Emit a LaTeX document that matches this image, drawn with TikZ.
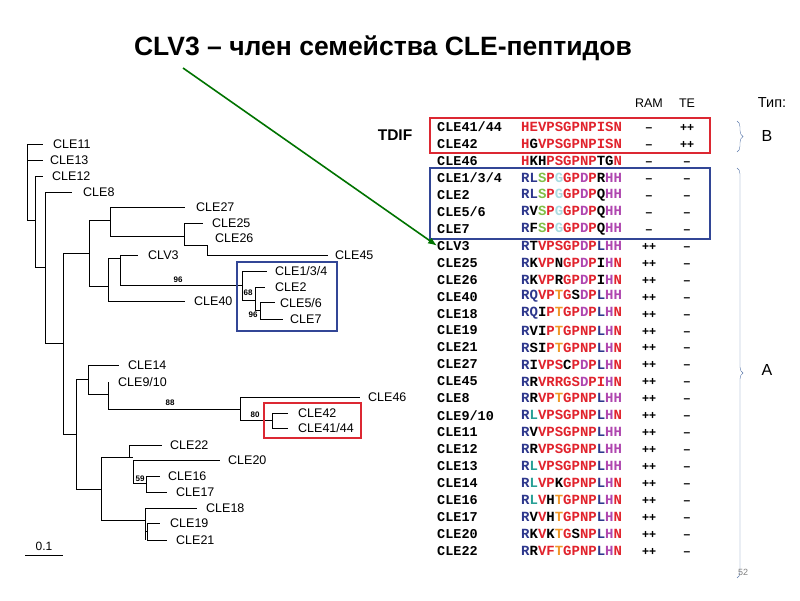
\documentclass[tikz,border=0pt]{standalone}
\usepackage{fontspec}
\setmainfont{Liberation Sans}
\newfontfamily\monofont{Liberation Mono}
\usetikzlibrary{decorations.pathreplacing,arrows.meta}
\definecolor{aaR}{RGB}{225,35,45}
\definecolor{aaB}{RGB}{45,55,140}
\definecolor{aaP}{RGB}{175,70,175}
\definecolor{aaT}{RGB}{40,160,150}
\definecolor{aaO}{RGB}{240,150,40}
\definecolor{aaG}{RGB}{130,190,70}
\definecolor{aaL}{RGB}{170,220,225}
\definecolor{boxR}{RGB}{220,40,50}
\definecolor{boxB}{RGB}{50,70,150}
\definecolor{brc}{RGB}{90,120,170}
\newcommand{\qr}[1]{\textcolor{aaR}{#1}}
\newcommand{\qb}[1]{\textcolor{aaB}{#1}}
\newcommand{\qp}[1]{\textcolor{aaP}{#1}}
\newcommand{\qt}[1]{\textcolor{aaT}{#1}}
\newcommand{\qo}[1]{\textcolor{aaO}{#1}}
\newcommand{\qg}[1]{\textcolor{aaG}{#1}}
\newcommand{\ql}[1]{\textcolor{aaL}{#1}}
\tikzset{
  branch/.style={draw,line width=0.9pt},
  leaf/.style={anchor=west,inner sep=0pt,font=\fontsize{12.5}{13}\selectfont},
  boot/.style={inner sep=0pt,font=\bfseries\fontsize{8}{9}\selectfont},
  gene/.style={anchor=west,inner sep=0pt,font=\monofont\bfseries\fontsize{13.5}{14}\selectfont},
  seq/.style={anchor=west,inner sep=0pt,font=\monofont\bfseries\fontsize{14}{14}\selectfont},
  score/.style={anchor=base,inner sep=0pt,font=\bfseries\fontsize{12}{12}\selectfont},
  frame/.style={draw,line width=2pt}
}
\begin{document}
\begin{tikzpicture}[x=1pt,y=-1pt]
\useasboundingbox (0,0) rectangle (800,600);
% title and arrow
\node[font=\bfseries\fontsize{26.5}{28}\selectfont] (title) at (383,48) {CLV3 -- член семейства CLE-пептидов};
\coordinate (tail) at (183,68);
% tree
\path[branch] (27,144) -- (27,220) (27,144) -- (43,144) (27,160) -- (43,160)
  (27,220) -- (35,220) (35,176) -- (35,267) (35,176) -- (43,176)
  (35,267) -- (45,267) (45,192) -- (45,343) (45,192) -- (72,192)
  (45,343) -- (63,343) (63,253) -- (63,434)
  (63,253) -- (89,253) (89,220) -- (89,286)
  (89,220) -- (110,220) (110,207) -- (110,236) (110,207) -- (185,207)
  (110,236) -- (184,236) (184,223) -- (184,245) (184,223) -- (203,223)
  (184,245) -- (207,245) (207,245) -- (207,255) (207,255) -- (328,255)
  (89,286) -- (108,286) (108,258) -- (108,301) (108,301) -- (185,301)
  (108,258) -- (120,258) (120,255) -- (120,285) (120,255) -- (138,255)
  (120,285) -- (242,285) (242,271) -- (242,300) (242,271) -- (267,271)
  (242,300) -- (255,300) (255,287) -- (255,310) (255,287) -- (265,287)
  (255,310) -- (260,310) (260,302) -- (260,319) (260,302) -- (275,302) (260,319) -- (283,319)
  (63,434) -- (76,434) (76,379) -- (76,489)
  (76,379) -- (88,379) (88,365) -- (88,394) (88,365) -- (119,365)
  (88,394) -- (108,394) (108,382) -- (108,409) (108,409) -- (240,409)
  (240,397) -- (240,420) (240,397) -- (360,397) (240,420) -- (272,420)
  (272,413) -- (272,428) (272,413) -- (288,413) (272,428) -- (288,428)
  (76,489) -- (101,489) (101,457) -- (101,520)
  (101,457) -- (129,457) (129,445) -- (129,457) (129,445) -- (162,445)
  (129,457) -- (133,457) (133,460) -- (133,483) (133,460) -- (220,460)
  (133,483) -- (146,483) (146,476) -- (146,492) (146,476) -- (160,476) (146,492) -- (167,492)
  (101,520) -- (145,520) (145,508) -- (145,540) (145,508) -- (197,508)
  (145,531) -- (147,531) (147,523) -- (147,540) (147,523) -- (160,523) (147,540) -- (167,540)
  (25,555) -- (63,555);
\foreach \pos/\name/\txt in {(53,144)/l11/CLE11,(50,160)/l13/CLE13,(52,176)/l12/CLE12,
    (83,192)/l8/CLE8,(196,207)/l27/CLE27,(212,223)/l25/CLE25,(215,238)/l26/CLE26,
    (335,255)/l45/CLE45,(148,255)/lclv/CLV3,(194,301)/l40/CLE40,(275,271)/l134/{CLE1/3/4},
    (275,287)/l2/CLE2,(280,303)/l56/{CLE5/6},(290,319)/l7/CLE7,(128,365)/l14/CLE14,
    (118,382)/l910/{CLE9/10},(368,397)/l46/CLE46,(298,413)/l42/CLE42,(298,428)/l4144/{CLE41/44},
    (170,445)/l22/CLE22,(228,460)/l20/CLE20,(168,476)/l16/CLE16,(176,492)/l17/CLE17,
    (206,508)/l18/CLE18,(170,523)/l19/CLE19,(176,540)/l21/CLE21}
  \node[leaf] (\name) at \pos {\txt};
\foreach \pos/\name/\txt in {(178,280)/b96a/96,(248,293)/b68/68,(253,315)/b96b/96,
    (170,403)/b88/88,(255,415)/b80/80,(140,479)/b59/59}
  \node[boot] (\name) at \pos {\txt};
\node[font=\fontsize{12}{12}\selectfont] (scale) at (44,546) {0.1};
\draw[boxB,line width=2pt] (237,262) rectangle (337,331);
\draw[boxR,line width=2pt] (264,403) rectangle (361,438);
% alignment
\node[font=\fontsize{12.5}{13}\selectfont] (ram) at (649,103) {RAM};
\node[font=\fontsize{12.5}{13}\selectfont] (te) at (687,103) {TE};
\node[font=\fontsize{14.5}{15}\selectfont] (tip) at (772,103) {Тип:};
\node[font=\bfseries\fontsize{15.5}{16}\selectfont] (tdif) at (395,135) {TDIF};
\foreach \i/\name/\aa/\ram/\te in {
  0/{CLE41/44}/{\qr{HEVPSGPNPISN}}/--/++,
  1/CLE42/{\qr{H}G\qr{VPSGPNPISN}}/--/++,
  2/CLE46/{\qr{H}KH\qr{PSGPNP}TG\qr{N}}/--/--,
  3/{CLE1/3/4}/{\qb{RL}\qg{S}\qr{P}\ql{G}\qr{GP}\qp{D}\qr{P}R\qp{HH}}/--/--,
  4/CLE2/{\qb{RL}\qg{S}\qr{P}\ql{G}\qr{GP}\qp{D}\qr{P}Q\qp{HH}}/--/--,
  5/{CLE5/6}/{\qb{R}V\qg{S}\qr{P}\ql{G}\qr{GP}\qp{D}\qr{P}Q\qp{HH}}/--/--,
  6/CLE7/{\qb{R}F\qg{S}\qr{P}\ql{G}\qr{GP}\qp{D}\qr{P}Q\qp{HH}}/--/--,
  7/CLV3/{\qb{R}T\qr{VPSGP}\qp{D}\qr{P}\qb{L}\qp{HH}}/++/--,
  8/CLE25/{\qb{R}K\qr{VP}N\qr{GP}\qp{D}\qr{P}I\qp{H}\qr{N}}/++/--,
  9/CLE26/{\qb{R}K\qr{VP}R\qr{GP}\qp{D}\qr{P}I\qp{H}\qr{N}}/++/--,
  10/CLE40/{\qb{RQ}\qr{VP}\qo{T}\qr{G}S\qp{D}\qr{P}\qb{L}\qp{HH}}/++/--,
  11/CLE18/{\qb{RQ}I\qr{P}\qo{T}\qr{GP}\qp{D}\qr{P}\qb{L}\qp{H}\qr{N}}/++/--,
  12/CLE19/{\qb{R}VI\qr{P}\qo{T}\qr{GPNP}\qb{L}\qp{H}\qr{N}}/++/--,
  13/CLE21/{\qb{R}SI\qr{P}\qo{T}\qr{GPNP}\qb{L}\qp{H}\qr{N}}/++/--,
  14/CLE27/{\qb{R}I\qr{VPS}C\qr{P}\qp{D}\qr{P}\qb{L}\qp{H}\qr{N}}/++/--,
  15/CLE45/{\qb{R}R\qr{VRRGS}\qp{D}\qr{PI}\qp{H}\qr{N}}/++/--,
  16/CLE8/{\qb{R}R\qr{VP}\qo{T}\qr{GPNP}\qb{L}\qp{HH}}/++/--,
  17/{CLE9/10}/{\qb{R}\qt{L}\qr{VPSGPNP}\qb{L}\qp{H}\qr{N}}/++/--,
  18/CLE11/{\qb{R}V\qr{VPSGPNP}\qb{L}\qp{HH}}/++/--,
  19/CLE12/{\qb{R}R\qr{VPSGPNP}\qb{L}\qp{HH}}/++/--,
  20/CLE13/{\qb{R}\qt{L}\qr{VPSGPNP}\qb{L}\qp{HH}}/++/--,
  21/CLE14/{\qb{R}\qt{L}\qr{VP}K\qr{GPNP}\qb{L}\qp{H}\qr{N}}/++/--,
  22/CLE16/{\qb{R}\qt{L}\qr{V}H\qo{T}\qr{GPNP}\qb{L}\qp{H}\qr{N}}/++/--,
  23/CLE17/{\qb{R}V\qr{V}H\qo{T}\qr{GPNP}\qb{L}\qp{H}\qr{N}}/++/--,
  24/CLE20/{\qb{R}K\qr{V}K\qo{T}\qr{G}S\qr{NP}\qb{L}\qp{H}\qr{N}}/++/--,
  25/CLE22/{\qb{R}R\qr{VF}\qo{T}\qr{GPNP}\qb{L}\qp{H}\qr{N}}/++/--}
{
  \pgfmathsetmacro{\yy}{127+16.96*\i}
  \node[gene] (g\i) at (437,\yy) {\name};
  \node[seq] (s\i) at (521,\yy) {\aa};
  \node[score] (r\i) at (649,\yy+4.5) {\ram};
  \node[score] (t\i) at (687,\yy+4.5) {\te};
}
\draw[boxR,frame] (430,118) rectangle (710,153);
\draw[boxB,frame] (430,168) rectangle (710,239);
\draw[-{Latex[length=9pt,width=7pt]},line width=1.6pt,green!45!black] (tail) -- (g7.west);
% braces
\draw[brc,decorate,decoration={brace,amplitude=6pt}] (737,121) -- (737,152);
\draw[brc,decorate,decoration={brace,amplitude=6pt}] (737,168) -- (737,578);
\node[font=\fontsize{16}{16}\selectfont] (typeB) at (767,136) {B};
\node[font=\fontsize{16}{16}\selectfont] (typeA) at (767,370) {A};
\node[text=gray,font=\fontsize{9}{9}\selectfont] (page) at (743,572) {52};
\end{tikzpicture}
\end{document}
